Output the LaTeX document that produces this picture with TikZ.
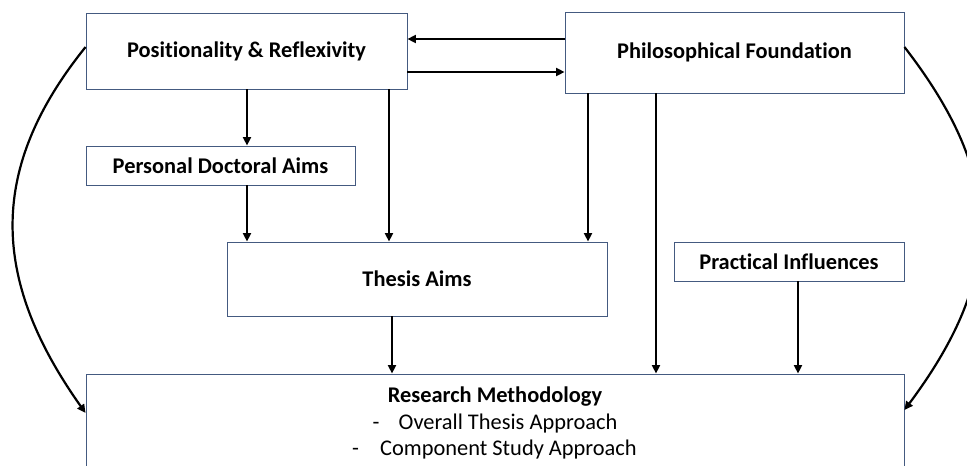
\documentclass[tikz,border=0pt]{standalone}
\usepackage{fontspec}
\setmainfont{Carlito}[Ligatures=CommonOff]
\usetikzlibrary{arrows.meta}
\definecolor{boxline}{RGB}{68,90,128}
\tikzset{
  box/.style={draw=boxline, line width=0.9pt, fill=white, rectangle, inner sep=0pt,
              font=\fontsize{22.4}{27}\selectfont\bfseries},
  arr/.style={line width=2.2pt, -{Triangle[length=8.5pt,width=8pt]}},
  itemtext/.style={anchor=base, inner sep=0pt, font=\fontsize{22.4}{27}\selectfont},
}
\begin{document}
\begin{tikzpicture}[x=1pt,y=-1pt]
\useasboundingbox (0,0) rectangle (967,466);
\clip (0,0) rectangle (967,466);
\fill[white] (0,0) rectangle (967,466);

% boxes
\node[box, minimum width=321pt, minimum height=76pt] (pos)    at (246.5,51)  {Positionality \& Reflexivity};
\node[box, minimum width=339pt, minimum height=81pt] (phil)   at (734.5,52.5) {Philosophical Foundation};
\node[box, minimum width=269pt, minimum height=39pt] (pda)    at (220.5,165.5) {Personal Doctoral Aims};
\node[box, minimum width=380pt, minimum height=74pt] (thesis) at (417,279)   {Thesis Aims};
\node[box, minimum width=230pt, minimum height=39pt] (prac)   at (789,261.5) {Practical Influences};
\node[box, minimum width=818pt, minimum height=140pt] (rm)    at (495,444)   {};

% methodology contents
\node[itemtext, font=\fontsize{22.4}{27}\selectfont\bfseries] (rmtitle) at (495,402) {Research Methodology};
\node[itemtext] (rmone) at (495,429) {\makebox[26pt][l]{-}Overall Thesis Approach};
\node[itemtext] (rmtwo) at (494.5,455) {\makebox[28pt][l]{-}Component Study Approach};

% links between the two top boxes
\draw[arr] (phil.west |- 0,39) -- (pos.east |- 0,39);
\draw[arr] (pos.east |- 0,72) -- (phil.west |- 0,72);

% downward links
\draw[arr] (247,0 |- pos.south) -- (247,0 |- pda.north);
\draw[arr] (247,0 |- pda.south) -- (247,0 |- thesis.north);
\draw[arr] (389,0 |- pos.south) -- (389,0 |- thesis.north);
\draw[arr] (588,0 |- phil.south) -- (588,0 |- thesis.north);
\draw[arr] (656,0 |- phil.south) -- (656,0 |- rm.north);
\draw[arr] (392,0 |- thesis.south) -- (392,0 |- rm.north);
\draw[arr] (798,0 |- prac.south) -- (798,0 |- rm.north);

% outer curved links
\draw[arr] (pos.west |- 0,47) .. controls (-11,167) and (-11,277) .. (rm.west |- 0,413);
\draw[arr] (phil.east |- 0,47) .. controls (1005,177) and (1005,275) .. (rm.east |- 0,410);
\end{tikzpicture}
\end{document}
